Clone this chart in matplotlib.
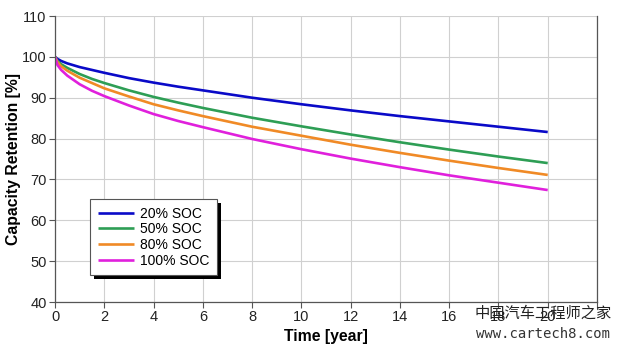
import matplotlib
matplotlib.use("Agg")
import matplotlib.pyplot as plt
from matplotlib.patches import Rectangle
from matplotlib.transforms import IdentityTransform

t = [0, 0.1, 0.25, 0.5, 1, 1.5, 2, 3, 4, 5, 6, 8, 10, 12, 14, 16, 18, 20]
soc20 = [100, 99.5, 99.0, 98.4, 97.5, 96.8, 96.1, 94.8, 93.7, 92.7, 91.8, 90.0, 88.4, 86.9, 85.5, 84.2, 82.9, 81.6]
soc50 = [100, 99.0, 98.2, 97.3, 95.8, 94.6, 93.6, 91.8, 90.2, 88.8, 87.5, 85.1, 83.0, 81.0, 79.1, 77.3, 75.6, 74.0]
soc80 = [100, 98.7, 97.7, 96.6, 94.9, 93.6, 92.3, 90.3, 88.4, 86.9, 85.5, 82.9, 80.7, 78.5, 76.5, 74.6, 72.8, 71.1]
soc100 = [100, 98.0, 96.8, 95.4, 93.3, 91.7, 90.4, 88.1, 86.0, 84.3, 82.8, 79.9, 77.4, 75.1, 73.0, 71.0, 69.2, 67.4]
labels = ["20% SOC", "50% SOC", "80% SOC", "100% SOC"]
colors = ["#0a0ac8", "#2e9e55", "#f08a26", "#e020dc"]
xticks = list(range(0, 21, 2))
yticks = list(range(40, 111, 10))

plt.rcParams['font.family'] = ['Liberation Sans', 'DejaVu Sans']

fig = plt.figure(figsize=(6.2, 3.52), dpi=100)
ax = fig.add_axes([55/620, 1-302/352, (597-55)/620, (302-16)/352])

for y, lab, c in zip([soc20, soc50, soc80, soc100], labels, colors):
    ax.plot(t, y, color=c, lw=1.9, label=lab, solid_capstyle='butt')

ax.set_xlim(0, 22)
ax.set_ylim(40, 110)
ax.set_xticks(xticks + [22])
ax.set_xticklabels([str(v) for v in xticks] + [""])
ax.set_yticks(yticks)
ax.grid(True, color="#d0d0d0", lw=0.8)
ax.set_axisbelow(True)
for s in ['left', 'bottom', 'right']:
    ax.spines[s].set_color('#555555')
    ax.spines[s].set_linewidth(0.9)
ax.spines['top'].set_visible(False)
ax.tick_params(axis='both', direction='out', length=4, width=0.8, color='#555555',
               labelsize=10.5, labelcolor='#222222', pad=2)
ax.set_xlabel("Time [year]", fontsize=11.3, fontweight='bold', labelpad=3)
ax.set_ylabel("Capacity Retention [%]", fontsize=11.3, fontweight='bold', labelpad=1)

leg = ax.legend(loc='upper left', bbox_to_anchor=((90-55)/542, (302-199)/286),
                borderaxespad=0, fancybox=False, framealpha=1, edgecolor='#555555',
                fontsize=10, handlelength=2.6, handletextpad=0.45, labelspacing=0.12,
                borderpad=0.55)
leg.get_frame().set_linewidth(0.8)
leg.set_zorder(6)

fig.canvas.draw()
bb = leg.get_window_extent()
shadow = Rectangle((bb.x0 + 4, bb.y0 - 4), bb.width, bb.height, transform=IdentityTransform(),
                   facecolor='black', edgecolor='none', zorder=5, clip_on=False)
ax.add_artist(shadow)

fig.text(543/620, 1-313/352, "中国汽车工程师之家", fontsize=11, color='#222222',
         ha='center', va='center', family=['Noto Sans CJK SC', 'DejaVu Sans'])
fig.text(543/620, 1-334/352, "www.cartech8.com", fontsize=10, color='#333333',
         ha='center', va='center', family=['DejaVu Sans Mono'])

fig.savefig("out.png", dpi=100)
